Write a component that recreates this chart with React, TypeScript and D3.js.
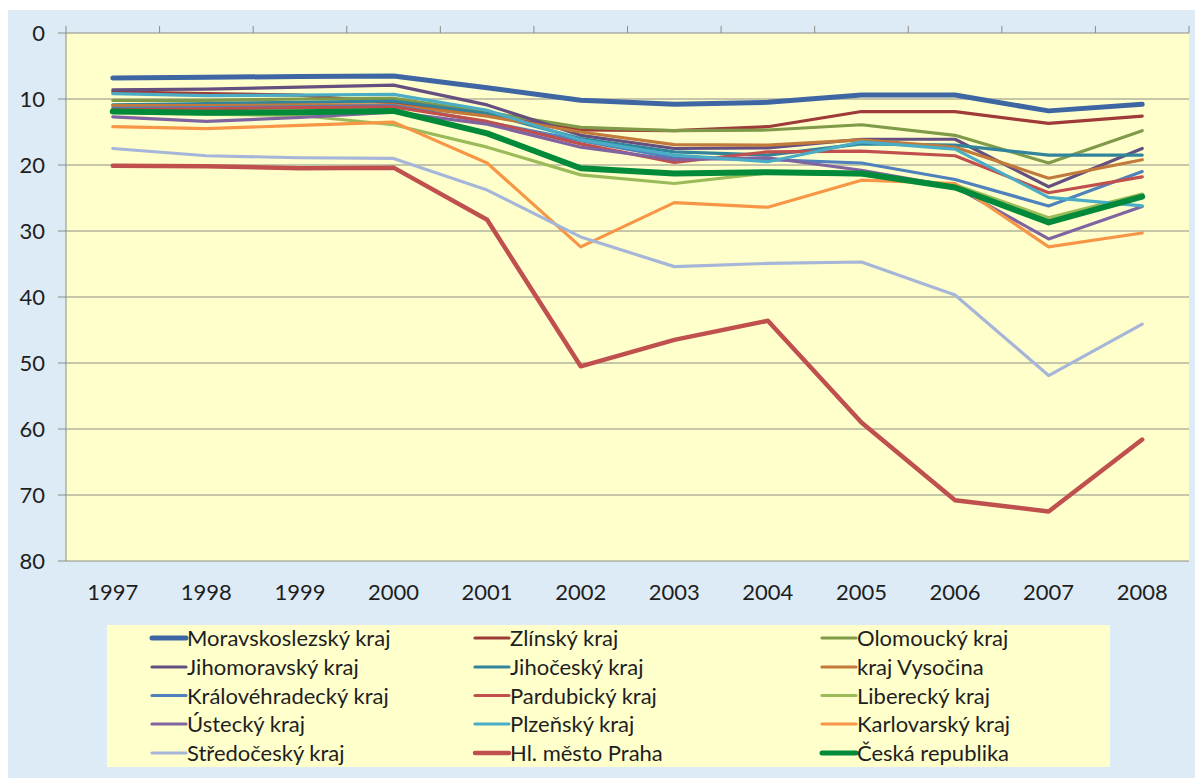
import React from "react";
import * as d3 from "d3";

const years = ["1997","1998","1999","2000","2001","2002","2003","2004","2005","2006","2007","2008"];
const yTicks = [0, 10, 20, 30, 40, 50, 60, 70, 80];

const moravskoslezsky = [6.8, 6.7, 6.6, 6.5, 8.3, 10.2, 10.8, 10.5, 9.4, 9.4, 11.8, 10.8];
const zlinsky = [8.9, 9.2, 9.4, 10.6, 12.3, 14.7, 14.8, 14.2, 11.9, 11.9, 13.7, 12.6];
const olomoucky = [10.2, 10.2, 10.0, 9.9, 12.0, 14.3, 14.8, 14.7, 13.9, 15.5, 19.7, 14.8];
const jihomoravsky = [8.6, 8.5, 8.2, 7.9, 10.9, 15.5, 17.5, 17.4, 16.1, 16.1, 23.3, 17.5];
const jihocesky = [10.9, 10.7, 10.5, 10.3, 12.2, 16.0, 18.0, 18.5, 16.8, 17.0, 18.5, 18.5];
const vysocina = [11.0, 11.0, 10.9, 10.9, 12.6, 15.0, 16.9, 17.0, 16.2, 17.3, 22.0, 19.2];
const kralovehradecky = [11.4, 11.3, 11.2, 11.0, 13.5, 16.3, 18.9, 19.2, 19.7, 22.2, 26.2, 21.0];
const pardubicky = [11.6, 11.5, 11.3, 11.2, 13.4, 16.8, 19.6, 18.0, 17.9, 18.6, 24.2, 21.8];
const liberecky = [12.0, 12.3, 12.5, 13.9, 17.3, 21.5, 22.8, 21.2, 21.5, 23.0, 28.0, 24.4];
const ustecky = [12.7, 13.4, 12.8, 12.0, 13.8, 17.3, 19.2, 18.9, 20.8, 23.3, 31.2, 26.3];
const plzensky = [9.2, 9.5, 9.4, 9.3, 11.7, 16.2, 18.5, 19.5, 16.5, 17.6, 24.9, 26.2];
const karlovarsky = [14.2, 14.5, 14.0, 13.5, 19.7, 32.4, 25.7, 26.4, 22.3, 22.8, 32.4, 30.3];
const stredocesky = [17.5, 18.6, 18.9, 19.0, 23.8, 30.9, 35.4, 34.9, 34.7, 39.7, 51.9, 44.1];
const praha = [20.1, 20.2, 20.5, 20.4, 28.3, 50.5, 46.5, 43.6, 59.0, 70.8, 72.5, 61.6];
const ceskaRepublika = [11.9, 12.1, 12.0, 11.8, 15.2, 20.5, 21.3, 21.1, 21.3, 23.4, 28.7, 24.8];

const seriesNames = [
  "Moravskoslezský kraj", "Zlínský kraj", "Olomoucký kraj",
  "Jihomoravský kraj", "Jihočeský kraj", "kraj Vysočina",
  "Královéhradecký kraj", "Pardubický kraj", "Liberecký kraj",
  "Ústecký kraj", "Plzeňský kraj", "Karlovarský kraj",
  "Středočeský kraj", "Hl. město Praha", "Česká republika",
];
const seriesValues = [
  moravskoslezsky, zlinsky, olomoucky,
  jihomoravsky, jihocesky, vysocina,
  kralovehradecky, pardubicky, liberecky,
  ustecky, plzensky, karlovarsky,
  stredocesky, praha, ceskaRepublika,
];
const seriesColors = [
  "#3d66a3", "#9e3a38", "#7f9a48",
  "#654f80", "#31849b", "#c27a3a",
  "#4f81bd", "#c0504d", "#9bbb59",
  "#8064a2", "#4bacc6", "#f79646",
  "#a6b6d8", "#c0504d", "#008a3a",
];
const seriesWidths = [5, 3.2, 3.2, 3.2, 3.2, 3.2, 3.2, 3.2, 3.2, 3.2, 3.2, 3.2, 3.2, 4.5, 6];

const FONT = "Lato, 'Open Sans', sans-serif";

export default function App() {
  const W = 1195, H = 778;
  const x = d3.scalePoint<string>().domain(years).range([66, 1189]).padding(0.5);
  const y = d3.scaleLinear().domain([0, 80]).range([33, 561]);
  const step = x.step();
  const line = d3.line<number>()
    .x((_, i) => x(years[i]) as number)
    .y((v) => y(v));

  const legendCols = [152, 475, 822];
  const legendRows = [638, 667, 695.5, 724, 753];

  return (
    <svg width={W} height={H} style={{ position: "fixed", left: 0, top: 0, background: "#ffffff" }}>
      <rect x={8} y={10} width={W - 8} height={H - 10} fill="#dcebf6" />
      <rect x={66} y={33} width={1189 - 66} height={561 - 33} fill="#ffffcc" />
      {yTicks.map((t) => (
        <g key={t}>
          {t > 0 && (
            <line x1={66} x2={1189} y1={y(t)} y2={y(t)} stroke="#8c8c84" strokeWidth={1} />
          )}
          <line x1={58} x2={66} y1={y(t)} y2={y(t)} stroke="#8c8c84" strokeWidth={1} />
          <text x={45} y={y(t) + 8} textAnchor="end" fontFamily={FONT} fontSize={22} fill="#1e1e1e">
            {t}
          </text>
        </g>
      ))}
      <line x1={66} x2={1189} y1={33} y2={33} stroke="#8c8c84" strokeWidth={1} />
      <line x1={66} x2={66} y1={26} y2={561} stroke="#8c8c84" strokeWidth={1} />
      {years.map((yr, i) => (
        <line key={"t" + yr} x1={66 + step * (i + 1)} x2={66 + step * (i + 1)} y1={26} y2={33} stroke="#8c8c84" strokeWidth={1} />
      ))}
      {years.map((yr) => (
        <text key={yr} x={x(yr)} y={600} textAnchor="middle" fontFamily={FONT} fontSize={22} fill="#1e1e1e">
          {yr}
        </text>
      ))}
      {seriesValues.map((vals, i) => (
        <path key={seriesNames[i]} d={line(vals) || ""} fill="none" stroke={seriesColors[i]}
          strokeWidth={seriesWidths[i]} strokeLinejoin="round" strokeLinecap="round" />
      ))}
      <rect x={107} y={625} width={1110 - 107} height={767 - 625} fill="#ffffcc" />
      {seriesNames.map((name, i) => {
        const cx = legendCols[i % 3];
        const cy = legendRows[Math.floor(i / 3)];
        return (
          <g key={"lg" + name}>
            <line x1={cx} x2={cx + 34} y1={cy} y2={cy} stroke={seriesColors[i]}
              strokeWidth={Math.min(seriesWidths[i], 5)} strokeLinecap="round" />
            <text x={cx + 35} y={cy + 8} fontFamily={FONT} fontSize={22} fill="#1e1e1e">{name}</text>
          </g>
        );
      })}
    </svg>
  );
}
